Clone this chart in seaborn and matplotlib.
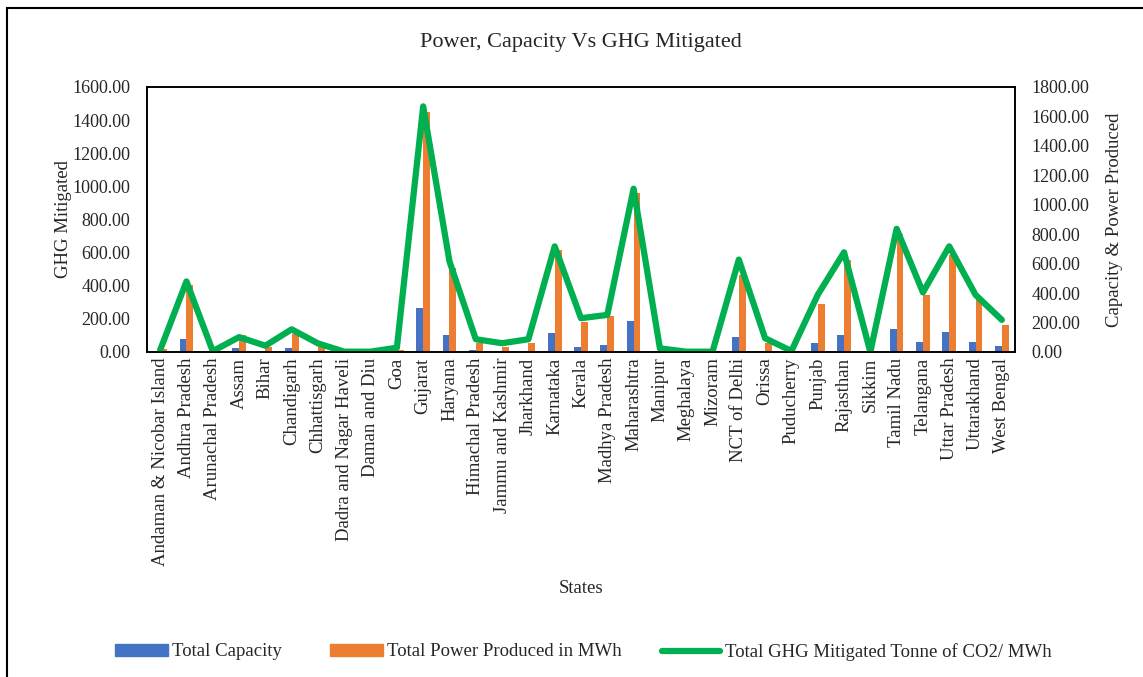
import numpy as np
import pandas as pd
import matplotlib
matplotlib.use('Agg')
import matplotlib.pyplot as plt
import seaborn as sns
from matplotlib.patches import Patch, Rectangle
from matplotlib.lines import Line2D
from matplotlib.ticker import FormatStrFormatter

# data
states = ['Andaman & Nicobar Island', 'Andhra Pradesh', 'Arunachal Pradesh', 'Assam', 'Bihar',
          'Chandigarh', 'Chhattisgarh', 'Dadra and Nagar Haveli', 'Daman and Diu', 'Goa',
          'Gujarat', 'Haryana', 'Himachal Pradesh', 'Jammu and Kashmir', 'Jharkhand',
          'Karnataka', 'Kerala', 'Madhya Pradesh', 'Maharashtra', 'Manipur', 'Meghalaya',
          'Mizoram', 'NCT of Delhi', 'Orissa', 'Puducherry', 'Punjab', 'Rajasthan', 'Sikkim',
          'Tamil Nadu', 'Telangana', 'Uttar Pradesh', 'Uttarakhand', 'West Bengal']
capacity = [3, 88, 1, 27, 3, 27, 9, 1, 1, 3,
            300, 116, 14, 9, 10, 127, 36, 48, 213, 1, 1,
            1, 104, 10, 1, 64, 116, 1, 155, 66, 138, 70, 41]
power = [20, 457, 2, 116, 32, 120, 36, 2, 2, 13,
         1627, 570, 59, 36, 64, 691, 207, 245, 1077, 4, 1,
         1, 525, 59, 3, 325, 627, 1, 804, 389, 661, 354, 184]
ghg = [12, 426, 5, 90, 38, 137, 52, 2, 2, 26,
       1483, 547, 77, 53, 77, 638, 204, 224, 986, 22, 2,
       2, 558, 83, 6, 345, 602, 0, 744, 360, 638, 345, 194]

series_names = ['Total Capacity', 'Total Power Produced in MWh']
line_name = 'Total GHG Mitigated Tonne of CO2/ MWh'
colors = ['#4472C4', '#ED7D31']
green = '#00B050'

df = pd.DataFrame({'State': states, series_names[0]: capacity, series_names[1]: power})
long_df = df.melt(id_vars='State', var_name='Series', value_name='Value')

sns.set_style('white')
plt.rcParams['font.family'] = ['Liberation Serif', 'DejaVu Serif']

fig = plt.figure(figsize=(11.43, 6.77), dpi=100)
ax = fig.add_axes([147 / 1143, 1 - 352 / 677, (1015 - 147) / 1143, (352 - 87) / 677])

# bars on the Capacity & Power axis
sns.barplot(data=long_df, x='State', y='Value', hue='Series', palette=colors,
            width=0.52, gap=0.0, ax=ax, legend=False, saturation=1, linewidth=0)
ax.set_xlim(-0.5, len(states) - 0.5)

# line on the GHG axis
ax2 = ax.twinx()
sns.lineplot(x=np.arange(len(states)), y=ghg, ax=ax2, color=green, linewidth=4.5,
             solid_joinstyle='round', solid_capstyle='round')

ax.set_ylim(0, 1800)
ax.set_yticks(np.arange(0, 1801, 200))
ax.yaxis.set_major_formatter(FormatStrFormatter('%.2f'))
ax.yaxis.tick_right()
ax.yaxis.set_label_position('right')
ax.set_ylabel('Capacity & Power Produced', fontsize=13.5, labelpad=12)
ax.set_xlabel('States', fontsize=13.5, labelpad=10)

ax2.set_ylim(0, 1600)
ax2.set_yticks(np.arange(0, 1601, 200))
ax2.yaxis.set_major_formatter(FormatStrFormatter('%.2f'))
ax2.yaxis.tick_left()
ax2.yaxis.set_label_position('left')
ax2.set_ylabel('GHG Mitigated', fontsize=13.5, labelpad=0)

for a in (ax, ax2):
    a.tick_params(axis='y', length=0, labelsize=13, pad=12)
    for s in a.spines.values():
        s.set_color('black')
        s.set_linewidth(1.2)

ax.set_xticks(range(len(states)))
ax.set_xticklabels(states, rotation=90, fontsize=13.5)
ax.tick_params(axis='x', length=0, pad=4)

fig.text(0.508, 1 - 42 / 677, 'Power, Capacity Vs GHG Mitigated', ha='center', va='center', fontsize=16)

# legend entries placed individually (Excel style)
leg_y = 1 - 652 / 677
entries = [(Patch(color=colors[0]), series_names[0], 115, 2.8),
           (Patch(color=colors[1]), series_names[1], 330, 2.8),
           (Line2D([0], [0], color=green, linewidth=4.5, solid_capstyle='round'), line_name, 662, 3.1)]
for h, lab, x0, hl in entries:
    fig.legend([h], [lab], loc='center left', bbox_to_anchor=(x0 / 1143, leg_y),
               frameon=False, fontsize=13.5, handlelength=hl, handleheight=0.55,
               handletextpad=0.25, borderpad=0, borderaxespad=0)

# figure border (left and top edges visible)
fig.patches.append(Rectangle((7 / 1143, -0.1), 1.2, 1 - 8 / 677 + 0.1, transform=fig.transFigure,
                             fill=False, edgecolor='black', linewidth=1.5))

fig.savefig('out.png', dpi=100)
